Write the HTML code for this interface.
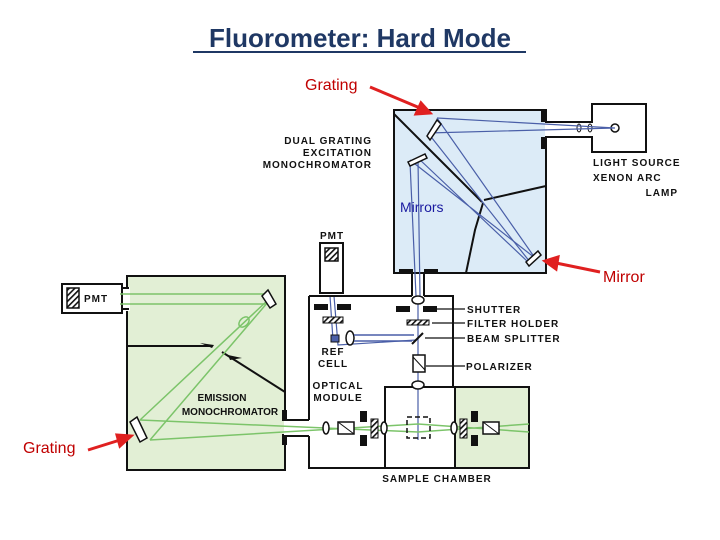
<!DOCTYPE html>
<html><head><meta charset="utf-8"><style>
body{margin:0;background:#fff}
svg{display:block}
.l{font-family:"Liberation Sans",sans-serif;font-size:10px;font-weight:bold;letter-spacing:1px;fill:#111}
</style></head><body>
<svg width="720" height="540" viewBox="0 0 720 540" xmlns="http://www.w3.org/2000/svg">
<defs><pattern id="h" width="4" height="4" patternUnits="userSpaceOnUse" patternTransform="rotate(45)"><rect width="4" height="4" fill="#fff"/><rect width="1.6" height="4" fill="#111"/></pattern></defs>
<text x="360" y="47" text-anchor="middle" font-family="Liberation Sans,sans-serif" font-size="26" font-weight="bold" fill="#1f3864">Fluorometer: Hard Mode</text>
<line x1="193" y1="52" x2="526" y2="52" stroke="#1f3864" stroke-width="2"/>
<!-- excitation box -->
<rect x="394" y="110" width="152" height="163" fill="#dcebf7" stroke="#111" stroke-width="2"/>
<line x1="394" y1="114" x2="482" y2="202" stroke="#111" stroke-width="2"/>
<line x1="484" y1="200" x2="546" y2="186" stroke="#111" stroke-width="2"/>
<path d="M483 203 L475 230 L466 273" stroke="#111" stroke-width="2" fill="none"/>
<rect x="541" y="110" width="5" height="12" fill="#111"/><rect x="541" y="137" width="5" height="12" fill="#111"/>
<rect x="399" y="269" width="14" height="4" fill="#111"/><rect x="424" y="269" width="14" height="4" fill="#111"/>
<!-- light source -->
<rect x="592" y="104" width="54" height="48" fill="#fff" stroke="#111" stroke-width="2"/>
<path d="M546 122 H592 M546 137 H592" stroke="#111" stroke-width="2"/>
<rect x="545" y="123" width="48" height="13" fill="#fff"/>
<circle cx="615" cy="128" r="4" fill="none" stroke="#111" stroke-width="1.5"/>
<ellipse cx="579" cy="128" rx="2" ry="4" fill="none" stroke="#111"/><ellipse cx="590" cy="128" rx="2" ry="4" fill="none" stroke="#111"/>
<g stroke="#4a5fa8" stroke-width="1.2" fill="none">
<path d="M437 118 L615 128 L428 133"/><path d="M437 118 L535 258 M428 133 L530 262"/>
<path d="M410 160 L535 258 M418 158 L528 262"/><path d="M410 162 L416 296 M418 160 L420 296"/>
<path d="M418 296 L418 440"/>
<path d="M334 296 L338 345 L416 340 M330 296 L333 340"/>
</g>
<path d="M427 136 L437 120 L441 124 L430 140Z" fill="#fff" stroke="#111" stroke-width="1.5"/>
<path d="M408 162 L425 154 L427 158 L410 166Z" fill="#fff" stroke="#111" stroke-width="1.5"/>
<path d="M526 262 L538 251 L541 255 L529 266Z" fill="#fff" stroke="#111" stroke-width="1.5"/>
<text x="400" y="212" font-family="Liberation Sans,sans-serif" font-size="14" fill="#1a1aa0">Mirrors</text>
<text class="l" x="372" y="144" text-anchor="end">DUAL GRATING</text>
<text class="l" x="372" y="156" text-anchor="end">EXCITATION</text>
<text class="l" x="372" y="168" text-anchor="end">MONOCHROMATOR</text>
<text class="l" x="593" y="166">LIGHT SOURCE</text>
<text class="l" x="593" y="181">XENON ARC</text>
<text class="l" x="678" y="196" text-anchor="end">LAMP</text>
<!-- tube -->
<path d="M412 273 V296 M424 273 V296" stroke="#111" stroke-width="2"/>
<!-- optical module -->
<path d="M309 296 H412 M424 296 H453 V387 M309 296 V420 M309 436 V468 H529 V387 H385 V468 M455 387 V468" stroke="#111" stroke-width="2" fill="none"/>
<rect x="456" y="388" width="72" height="79" fill="#e2efd5"/>
<!-- PMT top -->
<rect x="320" y="243" width="23" height="50" fill="#fff" stroke="#111" stroke-width="2"/>
<rect x="325" y="248" width="13" height="13" fill="url(#h)" stroke="#111" stroke-width="1.5"/>
<text class="l" x="332" y="239" text-anchor="middle">PMT</text>
<rect x="314" y="304" width="14" height="6" fill="#111"/><rect x="337" y="304" width="14" height="6" fill="#111"/>
<rect x="323" y="317" width="20" height="6" fill="url(#h)" stroke="#111"/>
<rect x="331" y="335" width="8" height="7" fill="#4a5fa8" stroke="#111"/>
<ellipse cx="350" cy="338" rx="4" ry="7" fill="#fff" stroke="#111" stroke-width="1.5"/>
<path d="M354 335 H414 M354 341 H412" stroke="#4a5fa8" stroke-width="1.5"/>
<text class="l" x="333" y="355" text-anchor="middle">REF</text>
<text class="l" x="333" y="367" text-anchor="middle">CELL</text>
<text class="l" x="338" y="389" text-anchor="middle">OPTICAL</text>
<text class="l" x="338" y="401" text-anchor="middle">MODULE</text>
<!-- vertical components -->
<ellipse cx="418" cy="300" rx="6" ry="4" fill="#fff" stroke="#111" stroke-width="1.5"/>
<rect x="396" y="306" width="14" height="6" fill="#111"/><rect x="423" y="306" width="14" height="6" fill="#111"/>
<rect x="407" y="320" width="22" height="5" fill="url(#h)" stroke="#111"/>
<line x1="412" y1="344" x2="423" y2="333" stroke="#111" stroke-width="2"/>
<rect x="413" y="355" width="12" height="17" fill="#fff" stroke="#111" stroke-width="1.5"/><line x1="413" y1="357" x2="425" y2="370" stroke="#111"/>
<ellipse cx="418" cy="385" rx="6" ry="4" fill="#fff" stroke="#111" stroke-width="1.5"/>
<g stroke="#111" stroke-width="1.2"><line x1="437" y1="309" x2="465" y2="309"/><line x1="432" y1="323" x2="465" y2="323"/><line x1="425" y1="338" x2="465" y2="338"/><line x1="426" y1="366" x2="465" y2="366"/></g>
<text class="l" x="467" y="313">SHUTTER</text>
<text class="l" x="467" y="327">FILTER HOLDER</text>
<text class="l" x="467" y="342">BEAM SPLITTER</text>
<text class="l" x="466" y="370">POLARIZER</text>
<text class="l" x="437" y="482" text-anchor="middle">SAMPLE CHAMBER</text>
<!-- emission box -->
<rect x="127" y="276" width="158" height="194" fill="#e2efd5" stroke="#111" stroke-width="2"/>
<path d="M127 346 H210 M222 352 L285 392" stroke="#111" stroke-width="2" fill="none"/>
<rect x="120" y="287" width="10" height="24" fill="#fff"/>
<rect x="62" y="284" width="60" height="29" fill="#fff" stroke="#111" stroke-width="2"/>
<path d="M122 288 H129 M122 309 H129" stroke="#111" stroke-width="2"/>
<rect x="67" y="288" width="12" height="20" fill="url(#h)" stroke="#111" stroke-width="1.5"/>
<text class="l" x="84" y="302">PMT</text>
<rect x="282" y="410" width="5" height="11" fill="#111"/><rect x="282" y="434" width="5" height="11" fill="#111"/>
<path d="M285 420 H309 M285 436 H309" stroke="#111" stroke-width="2"/>
<rect x="284" y="421" width="26" height="14" fill="#fff"/>
<g stroke="#7cc46a" stroke-width="1.5" fill="none">
<path d="M120 294 H268 M120 304 H268"/>
<path d="M268 300 L140 420 M268 302 L150 440"/>
<path d="M140 420 L418 432 L529 424 M150 440 L418 424 L529 432"/>
</g>
<ellipse cx="244" cy="322" rx="4" ry="6" fill="none" stroke="#7cc46a" stroke-width="1.5" transform="rotate(45 244 322)"/>
<path d="M200 343 L214 345 L212 348Z M228 355 L242 358 L230 360Z" fill="#111"/>
<path d="M262 296 L268 290 L276 304 L270 308Z" fill="#fff" stroke="#111" stroke-width="1.5"/>
<path d="M130 422 L137 417 L147 438 L140 442Z" fill="#fff" stroke="#111" stroke-width="1.5"/>
<text class="l" x="222" y="401" text-anchor="middle" style="letter-spacing:0">EMISSION</text>
<text class="l" x="230" y="415" text-anchor="middle" style="letter-spacing:0">MONOCHROMATOR</text>
<!-- horizontal components -->
<ellipse cx="326" cy="428" rx="3" ry="6" fill="#fff" stroke="#111" stroke-width="1.5"/>
<rect x="338" y="422" width="16" height="12" fill="#fff" stroke="#111" stroke-width="1.5"/><line x1="338" y1="422" x2="354" y2="434" stroke="#111"/>
<rect x="360" y="411" width="7" height="11" fill="#111"/><rect x="360" y="435" width="7" height="11" fill="#111"/>
<rect x="371" y="419" width="7" height="19" fill="url(#h)" stroke="#111"/>
<ellipse cx="384" cy="428" rx="3" ry="6" fill="#fff" stroke="#111" stroke-width="1.5"/>
<rect x="407" y="417" width="23" height="21" fill="none" stroke="#111" stroke-width="1.5" stroke-dasharray="5,3"/>
<ellipse cx="454" cy="428" rx="3" ry="6" fill="#fff" stroke="#111" stroke-width="1.5"/>
<rect x="460" y="419" width="7" height="19" fill="url(#h)" stroke="#111"/>
<rect x="471" y="411" width="7" height="11" fill="#111"/><rect x="471" y="435" width="7" height="11" fill="#111"/>
<rect x="483" y="422" width="16" height="12" fill="#fff" stroke="#111" stroke-width="1.5"/><line x1="483" y1="422" x2="499" y2="434" stroke="#111"/>
<!-- red labels/arrows -->
<g font-family="Liberation Sans,sans-serif" font-size="16" fill="#c00000">
<text x="305" y="90">Grating</text><text x="603" y="282">Mirror</text><text x="23" y="453">Grating</text></g>
<g stroke="#e02020" stroke-width="3" fill="#e02020">
<line x1="370" y1="87" x2="420" y2="108"/><path d="M430 113 L416 114 L421 103Z"/>
<line x1="600" y1="272" x2="556" y2="263"/><path d="M545 261 L558 257 L556 269Z"/>
<line x1="88" y1="450" x2="120" y2="440"/><path d="M131 436 L120 446 L117 435Z"/>
</g>
</svg>
</body></html>
